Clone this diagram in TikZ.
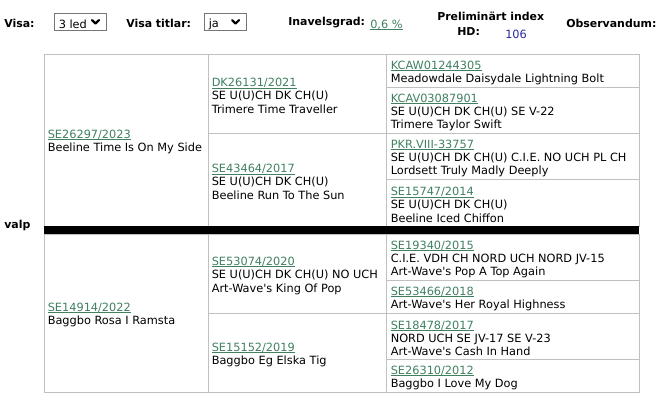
\documentclass[tikz,border=0pt]{standalone}
\usepackage{fontspec}
\setmainfont{DejaVu Sans}
\usepackage{xcolor}
\usetikzlibrary{positioning}
\definecolor{lnkgreen}{RGB}{64,128,96}
\definecolor{hdblue}{RGB}{40,40,160}
\definecolor{gridgray}{RGB}{192,192,192}
\definecolor{boxgray}{RGB}{118,118,118}
\newdimen\pxu \pxu=0.75pt
\newcommand{\lnk}[1]{\textcolor{lnkgreen}{\setbox0\hbox{#1}\rlap{\rule[-1.5pt]{\wd0}{0.7pt}}\box0}}
\newcommand{\q}{\textquotesingle}

\begin{document}
\begin{tikzpicture}[x=0.75pt,y=-0.75pt,
  txt/.style={font=\fontsize{8.5}{10}\selectfont,align=left,inner sep=0pt,yshift=-1.5pt},
  hd/.style={font=\fontsize{8.2}{10}\bfseries\selectfont,anchor=west,inner sep=0pt},
  cell/.style={draw=gridgray,line width=0.75pt,inner sep=0pt},
  sel/.style={draw=boxgray,line width=0.75pt,inner sep=0pt},
  chev/.style={line width=1.6pt,line cap=round,line join=round}]
\useasboundingbox (0,0) rectangle (659,401);
% header row
\node[hd] (visa) at (4,23) {Visa:};
\node[sel,minimum width=52\pxu,minimum height=17.4\pxu] (s1) at (80,22) {};
\node[txt,right=5\pxu of s1.west] (s1t) {3 led};
\draw[chev] (92,20) -- (95.5,23.5) -- (99,20);
\node[hd] (titl) at (126,23) {Visa titlar:};
\node[sel,minimum width=42\pxu,minimum height=17.4\pxu] (s2) at (225,22) {};
\node[txt,right=5\pxu of s2.west] (s2t) {ja};
\draw[chev] (232,20) -- (235.5,23.5) -- (239,20);
\node[hd] (inav) at (288,23) {Inavelsgrad:};
\node[txt,anchor=west] (grad) at (370,23) {\lnk{0,6 \%}};
\node[hd] (prel) at (437,16) {Preliminärt index};
\node[hd] (hdl) at (457,32) {HD:};
\node[txt,anchor=west,text=hdblue] (hdv) at (505,32) {106};
\node[hd] (obs) at (566,23) {Observandum:};
\node[hd] (valp) at (4,225) {valp};
% pedigree
\node[cell,minimum width=164\pxu,minimum height=172\pxu] (c1) at (126,140) {};
\node[txt,right=4\pxu of c1.west] (pup) {\lnk{SE26297/2023}\\Beeline Time Is On My Side};
\node[cell,minimum width=164\pxu,minimum height=158\pxu] (c2) at (126,313) {};
\node[txt,right=4\pxu of c2.west] (dam) {\lnk{SE14914/2022}\\Baggbo Rosa I Ramsta};
\node[cell,minimum width=178.5\pxu,minimum height=79.3\pxu] (c3) at (297.25,93.65) {};
\node[txt,right=4\pxu of c3.west] (ss) {\lnk{DK26131/2021}\\SE U(U)CH DK CH(U)\\Trimere Time Traveller};
\node[cell,minimum width=178.5\pxu,minimum height=92.7\pxu] (c4) at (297.25,179.65) {};
\node[txt,right=4\pxu of c4.west] (sd) {\lnk{SE43464/2017}\\SE U(U)CH DK CH(U)\\Beeline Run To The Sun};
\node[cell,minimum width=178.5\pxu,minimum height=79.3\pxu] (c5) at (297.25,273.65) {};
\node[txt,right=4\pxu of c5.west] (ds) {\lnk{SE53074/2020}\\SE U(U)CH DK CH(U) NO UCH\\Art-Wave\q s King Of Pop};
\node[cell,minimum width=178.5\pxu,minimum height=78.7\pxu] (c6) at (297.25,352.65) {};
\node[txt,right=4\pxu of c6.west] (dd) {\lnk{SE15152/2019}\\Baggbo Eg Elska Tig};
\node[cell,minimum width=252.5\pxu,minimum height=33.3\pxu] (c7) at (512.75,70.65) {};
\node[txt,right=4.5\pxu of c7.west] (sss) {\lnk{KCAW01244305}\\Meadowdale Daisydale Lightning Bolt};
\node[cell,minimum width=252.5\pxu,minimum height=46\pxu] (c8) at (512.75,110.3) {};
\node[txt,right=4.5\pxu of c8.west] (ssd) {\lnk{KCAV03087901}\\SE U(U)CH DK CH(U) SE V-22\\Trimere Taylor Swift};
\node[cell,minimum width=252.5\pxu,minimum height=46\pxu] (c9) at (512.75,156.3) {};
\node[txt,right=4.5\pxu of c9.west] (sds) {\lnk{PKR.VIII-33757}\\SE U(U)CH DK CH(U) C.I.E. NO UCH PL CH\\Lordsett Truly Madly Deeply};
\node[cell,minimum width=252.5\pxu,minimum height=46.7\pxu] (c10) at (512.75,202.65) {};
\node[txt,right=4.5\pxu of c10.west] (sdd) {\lnk{SE15747/2014}\\SE U(U)CH DK CH(U)\\Beeline Iced Chiffon};
\node[cell,minimum width=252.5\pxu,minimum height=46.7\pxu] (c11) at (512.75,257.35) {};
\node[txt,right=4.5\pxu of c11.west] (dss) {\lnk{SE19340/2015}\\C.I.E. VDH CH NORD UCH NORD JV-15\\Art-Wave\q s Pop A Top Again};
\node[cell,minimum width=252.5\pxu,minimum height=32.6\pxu] (c12) at (512.75,297) {};
\node[txt,right=4.5\pxu of c12.west] (dsd) {\lnk{SE53466/2018}\\Art-Wave\q s Her Royal Highness};
\node[cell,minimum width=252.5\pxu,minimum height=46\pxu] (c13) at (512.75,336.3) {};
\node[txt,right=4.5\pxu of c13.west] (dds) {\lnk{SE18478/2017}\\NORD UCH SE JV-17 SE V-23\\Art-Wave\q s Cash In Hand};
\node[cell,minimum width=252.5\pxu,minimum height=32.7\pxu] (c14) at (512.75,375.65) {};
\node[txt,right=4.5\pxu of c14.west] (ddd) {\lnk{SE26310/2012}\\Baggbo I Love My Dog};
\node[fill=black,inner sep=0pt,minimum width=595\pxu,minimum height=8\pxu] (bar) at (341.5,230) {};
\end{tikzpicture}
\end{document}
